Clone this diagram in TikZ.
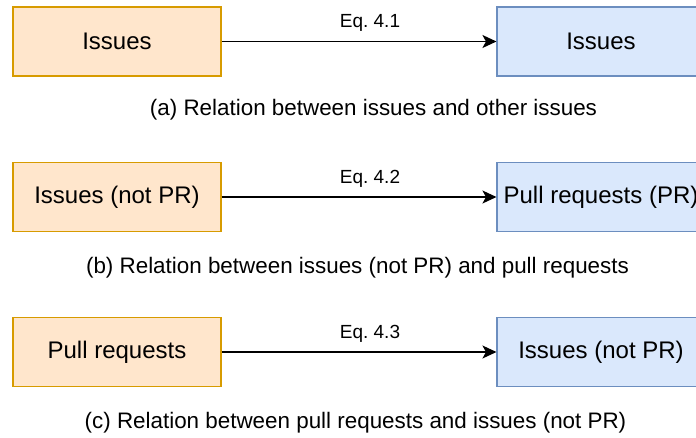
\documentclass[tikz,border=0pt]{standalone}
\usepackage{fontspec}
\setmainfont{Liberation Sans}
\usetikzlibrary{arrows.meta}
\definecolor{orfill}{HTML}{FFE6CC}
\definecolor{ordraw}{HTML}{D79B00}
\definecolor{blfill}{HTML}{DAE8FC}
\definecolor{bldraw}{HTML}{6C8EBF}
\tikzset{
  srcbox/.style={draw=ordraw, fill=orfill, line width=1.1pt, minimum width=208pt, minimum height=69pt, inner sep=0pt, font=\fontsize{24}{28}\selectfont},
  dstbox/.style={draw=bldraw, fill=blfill, line width=1.1pt, minimum width=208pt, minimum height=69pt, inner sep=0pt, font=\fontsize{24}{28}\selectfont},
  rel/.style={line width=1.3pt, -{Stealth[length=14pt,width=13pt,inset=3.5pt]}},
  eqlabel/.style={font=\fontsize{19}{22}\selectfont, inner sep=0pt},
  caption/.style={font=\fontsize{22.4}{26}\selectfont, inner sep=0pt}
}
\begin{document}
\frenchspacing
\begin{tikzpicture}[x=1pt,y=1pt]
\useasboundingbox (0,0) rectangle (696,-437);
\begin{scope}
\clip (0,0) rectangle (696,-437);
% row a
\node[srcbox] (a1) at (117,-41.5) {Issues};
\node[dstbox] (a2) at (601,-41.5) {Issues};
\draw[rel] (a1) -- (a2) node[eqlabel, pos=0.54, above=9pt] (ea) {Eq. 4.1};
\node[caption] (ca) at (373.5,-110) {(a) Relation between issues and other issues};
% row b
\node[srcbox] (b1) at (117,-197) {Issues (not PR)};
\node[dstbox] (b2) at (601,-197) {Pull requests (PR)};
\draw[rel] (b1) -- (b2) node[eqlabel, pos=0.54, above=9pt] (eb) {Eq. 4.2};
\node[caption] (cb) at (357.5,-268) {(b) Relation between issues (not PR) and pull requests};
% row c
\node[srcbox] (c1) at (117,-352) {Pull requests};
\node[dstbox] (c2) at (601,-352) {Issues (not PR)};
\draw[rel] (c1) -- (c2) node[eqlabel, pos=0.54, above=9pt] (ec) {Eq. 4.3};
\node[caption] (cc) at (355.5,-423) {(c) Relation between pull requests and issues (not PR)};
\end{scope}
\end{tikzpicture}
\end{document}
